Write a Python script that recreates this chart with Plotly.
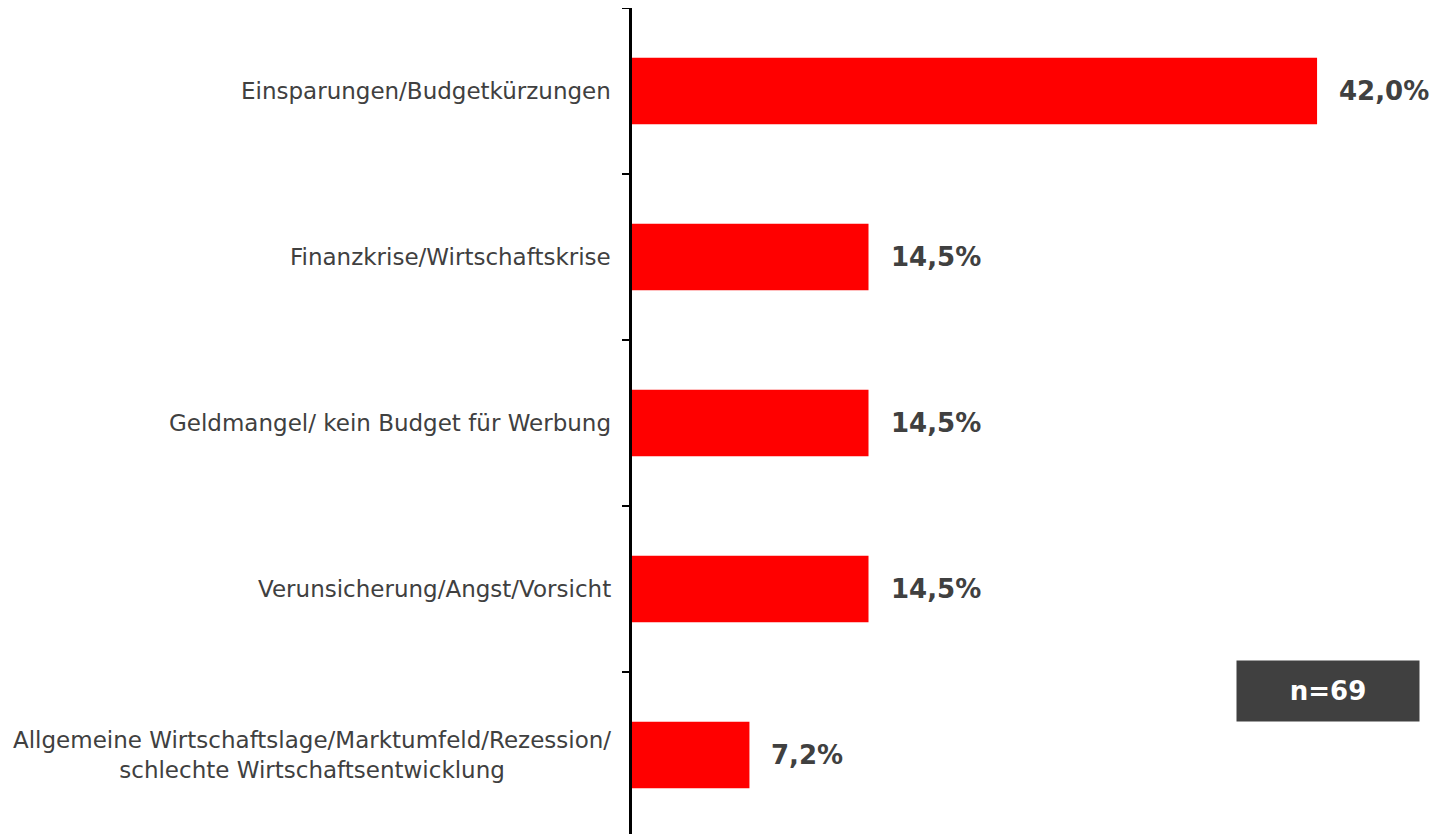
import plotly.graph_objects as go

categories = [
    "Einsparungen/Budgetkürzungen",
    "Finanzkrise/Wirtschaftskrise",
    "Geldmangel/ kein Budget für Werbung",
    "Verunsicherung/Angst/Vorsicht",
    "Allgemeine Wirtschaftslage/Marktumfeld/Rezession/<br>schlechte Wirtschaftsentwicklung",
]
values = [42.0, 14.5, 14.5, 14.5, 7.2]
sample_label = "n=69"

FONT = "DejaVu Sans"
GREY = "#404040"

fig = go.Figure()
fig.add_trace(go.Bar(
    x=values,
    y=categories,
    orientation="h",
    width=0.4,
    marker=dict(color="#ff0000", line=dict(width=0)),
    hoverinfo="skip",
))

annotations = []
for cat, v in zip(categories, values):
    annotations.append(dict(
        x=v, y=cat, xref="x", yref="y",
        text="<b>" + f"{v:.1f}".replace(".", ",") + "%</b>",
        showarrow=False, xanchor="left", yanchor="middle", xshift=20,
        font=dict(family=FONT, size=26, color=GREY),
    ))
    annotations.append(dict(
        x=0, y=cat, xref="x", yref="y",
        text=cat,
        showarrow=False, xanchor="right", yanchor="middle", xshift=-19,
        align="center",
        font=dict(family=FONT, size=23, color=GREY),
    ))

annotations.append(dict(
    x=0.948, y=0.173, xref="paper", yref="paper",
    text="<b>" + sample_label + "</b>",
    showarrow=False, xanchor="center", yanchor="middle",
    width=182, height=60, bgcolor=GREY, borderpad=0,
    font=dict(family=FONT, size=26, color="white"),
))

fig.update_layout(
    width=1430, height=826,
    margin=dict(l=624, r=72, t=0, b=0),
    paper_bgcolor="white", plot_bgcolor="white",
    showlegend=False,
    annotations=annotations,
    xaxis=dict(range=[0, 45], visible=False, showgrid=False, zeroline=False, fixedrange=True),
    yaxis=dict(
        type="category",
        categoryorder="array", categoryarray=categories,
        range=[4.476, -0.5],
        showline=True, linecolor="black", linewidth=3,
        ticks="outside", ticklen=7, tickcolor="black", tickwidth=2,
        tickson="boundaries",
        showticklabels=False,
        showgrid=False, zeroline=False, fixedrange=True,
    ),
    bargap=0.6,
)

fig.write_html("out.html")
